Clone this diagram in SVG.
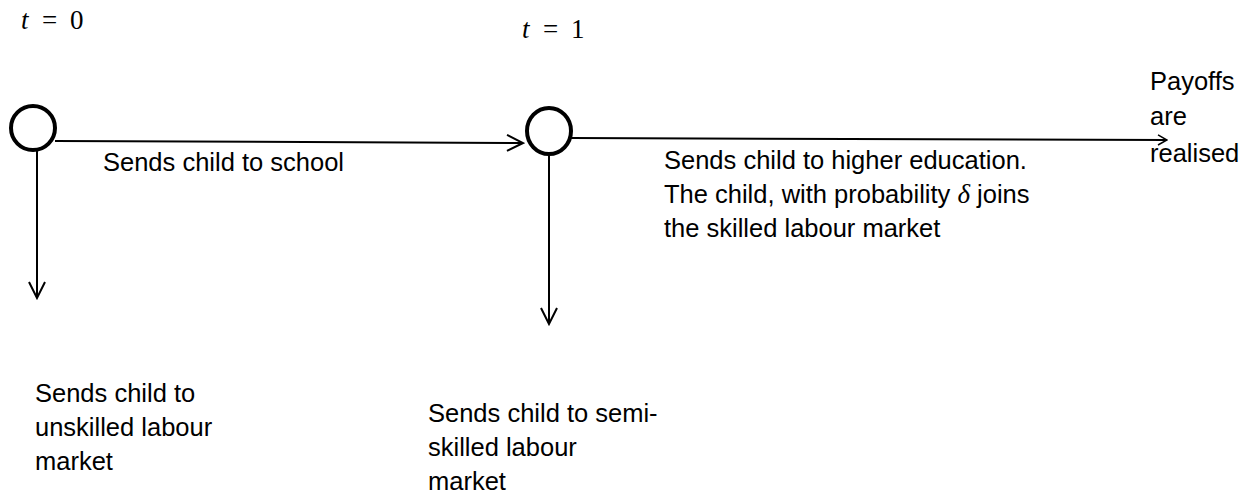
<svg xmlns="http://www.w3.org/2000/svg" width="1244" height="497" viewBox="0 0 1244 497">
<style>
.lbl{font-family:"Liberation Sans",Arial,sans-serif;font-size:25.5px;fill:#000}
.math{font-family:"Liberation Serif","Times New Roman",serif;font-size:27px;fill:#000}
.it{font-style:italic}
.node{fill:#fff;stroke:#000;stroke-width:4}
.conn{fill:none;stroke:#000;stroke-width:2}
</style>
<defs>
<marker id="open" viewBox="0 0 20 20" refX="18" refY="10" markerWidth="20" markerHeight="20" markerUnits="userSpaceOnUse" orient="auto">
<path d="M2,2 L18,10 L2,18" fill="none" stroke="#000" stroke-width="2"/>
</marker>
<marker id="small" viewBox="0 0 12 12" refX="11" refY="6" markerWidth="12" markerHeight="12" markerUnits="userSpaceOnUse" orient="auto">
<path d="M2,1 L11,6 L2,11" fill="none" stroke="#000" stroke-width="1.5"/>
</marker>
</defs>
<rect width="1244" height="497" fill="#fff"/>
<g id="connectors">
<line class="conn" x1="55" y1="141" x2="523" y2="143" marker-end="url(#open)"/>
<line class="conn" x1="37" y1="151" x2="37" y2="298" marker-end="url(#open)"/>
<line class="conn" x1="549" y1="154" x2="549" y2="324" marker-end="url(#open)"/>
<line class="conn" x1="571" y1="138" x2="1167" y2="140" marker-end="url(#small)"/>
</g>
<g id="t0">
<text class="math it" x="21" y="29">t</text>
<text class="math" x="42" y="29">=</text>
<text class="math" x="70" y="29">0</text>
</g>
<g id="t1">
<text class="math it" x="522" y="38">t</text>
<text class="math" x="543" y="38">=</text>
<text class="math" x="571" y="38">1</text>
</g>
<g id="node0"><circle class="node" cx="33" cy="128" r="22"/></g>
<g id="node1"><ellipse class="node" cx="549" cy="131" rx="22" ry="23"/></g>
<g id="label-school"><text class="lbl" x="103" y="171">Sends child to school</text></g>
<g id="label-higher">
<text class="lbl" x="664" y="169">Sends child to higher education.</text>
<text class="lbl" x="664" y="203">The child, with probability <tspan class="math it">δ</tspan> joins</text>
<text class="lbl" x="664" y="237">the skilled labour market</text>
</g>
<g id="label-payoffs">
<text class="lbl" x="1150" y="90">Payoffs</text>
<text class="lbl" x="1150" y="125">are</text>
<text class="lbl" x="1150" y="162">realised</text>
</g>
<g id="label-unskilled">
<text class="lbl" x="35" y="402">Sends child to</text>
<text class="lbl" x="35" y="436">unskilled labour</text>
<text class="lbl" x="35" y="470">market</text>
</g>
<g id="label-semiskilled">
<text class="lbl" x="428" y="422">Sends child to semi-</text>
<text class="lbl" x="428" y="456">skilled labour</text>
<text class="lbl" x="428" y="490">market</text>
</g>
</svg>
